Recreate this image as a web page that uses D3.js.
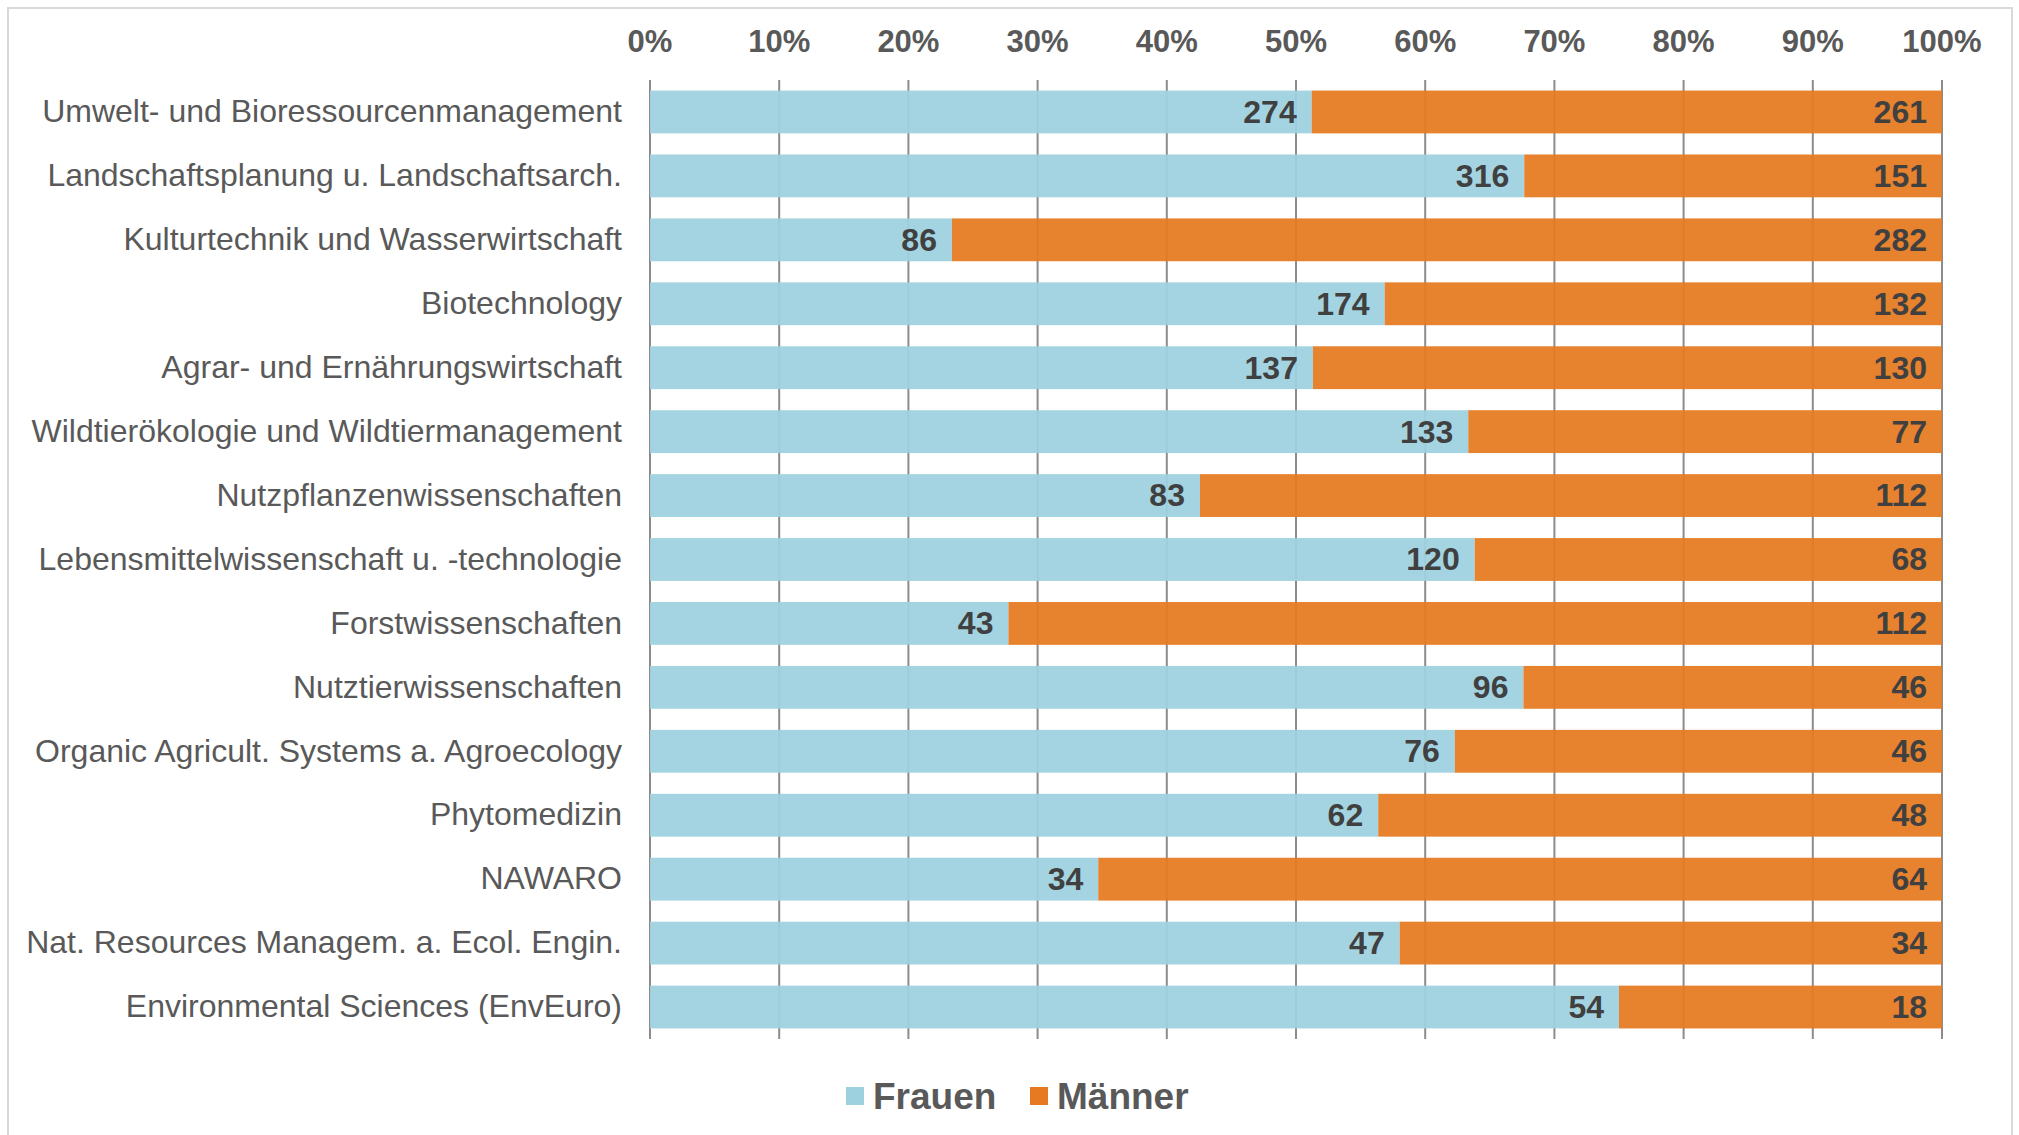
<!DOCTYPE html>
<html>
<head>
<meta charset="utf-8">
<script src="https://cdn.jsdelivr.net/npm/d3@7"></script>
<style>
    html, body { margin: 0; padding: 0; background: #fff; overflow: hidden; }
    svg { display: block; font-family: "Liberation Sans", Arial, sans-serif; }
</style>
</head>
<body>
<svg id="chart" width="2019" height="1135"></svg>
<script>
"use strict";

var categories = [
    "Umwelt- und Bioressourcenmanagement",
    "Landschaftsplanung u. Landschaftsarch.",
    "Kulturtechnik und Wasserwirtschaft",
    "Biotechnology",
    "Agrar- und Ernährungswirtschaft",
    "Wildtierökologie und Wildtiermanagement",
    "Nutzpflanzenwissenschaften",
    "Lebensmittelwissenschaft u. -technologie",
    "Forstwissenschaften",
    "Nutztierwissenschaften",
    "Organic Agricult. Systems a. Agroecology",
    "Phytomedizin",
    "NAWARO",
    "Nat. Resources Managem. a. Ecol. Engin.",
    "Environmental Sciences (EnvEuro)"
];
var frauen = [274, 316, 86, 174, 137, 133, 83, 120, 43, 96, 76, 62, 34, 47, 54];
var maenner = [261, 151, 282, 132, 130, 77, 112, 68, 112, 46, 46, 48, 64, 34, 18];
var seriesNames = ["Frauen", "Männer"];
var seriesColors = ["#9ED1DF", "#E57A22"];
var tickValues = [0, 0.1, 0.2, 0.3, 0.4, 0.5, 0.6, 0.7, 0.8, 0.9, 1];

((svg) => {
    var left = 650, right = 1942, top = 80, bottom = 1039;

    // outer frame (runs past the bottom edge like in the original)
    svg.append("rect")
        .attr("x", 8).attr("y", 8)
        .attr("width", 2004).attr("height", 1160)
        .attr("fill", "none").attr("stroke", "#d9d9d9").attr("stroke-width", 2);

    var rows = categories.map((c, i) => ({cat: c, Frauen: frauen[i], "Männer": maenner[i]}));
    var stacked = d3.stack().keys(seriesNames).offset(d3.stackOffsetExpand)(rows);

    var x = d3.scaleLinear().domain([0, 1]).range([left, right]);
    var y = d3.scaleBand().domain(categories).range([top, bottom])
        .paddingInner(0.33).paddingOuter(0.165);

    // gridlines
    svg.append("g").selectAll("line").data(tickValues).enter().append("line")
        .attr("x1", d => x(d)).attr("x2", d => x(d))
        .attr("y1", top).attr("y2", bottom)
        .attr("stroke", "#8c8c8c").attr("stroke-width", 2);

    // tick labels on top
    svg.append("g").selectAll("text").data(tickValues).enter().append("text")
        .attr("x", d => x(d)).attr("y", 52)
        .attr("text-anchor", "middle")
        .attr("font-size", 31).attr("font-weight", "bold").attr("fill", "#595959")
        .text(d3.format(".0%"));

    // bars
    var groups = svg.append("g").selectAll("g").data(stacked).enter().append("g")
        .attr("fill", (d, i) => seriesColors[i]);
    groups.selectAll("rect").data(d => d).enter().append("rect")
        .attr("x", d => x(d[0]))
        .attr("width", d => x(d[1]) - x(d[0]))
        .attr("y", d => y(d.data.cat))
        .attr("height", y.bandwidth())
        .attr("fill-opacity", 0.94);

    // value labels, inside end of each segment
    stacked.forEach(s => {
        svg.append("g").selectAll("text").data(s).enter().append("text")
            .attr("x", d => x(d[1]) - 15)
            .attr("y", d => y(d.data.cat) + y.bandwidth() / 2)
            .attr("dy", "0.34em")
            .attr("text-anchor", "end")
            .attr("font-size", 32).attr("font-weight", "bold").attr("fill", "#404040")
            .text(d => d.data[s.key]);
    });

    // category labels
    svg.append("g").selectAll("text").data(categories).enter().append("text")
        .attr("x", left - 28)
        .attr("y", d => y(d) + y.bandwidth() / 2)
        .attr("dy", "0.32em")
        .attr("text-anchor", "end")
        .attr("font-size", 32).attr("fill", "#595959")
        .text(d => d);

    // legend
    var legendX = [846, 1030];
    var legend = svg.append("g").selectAll("g").data(seriesNames).enter().append("g")
        .attr("transform", (d, i) => "translate(" + legendX[i] + ",1096)");
    legend.append("rect")
        .attr("x", 0).attr("y", -9).attr("width", 18).attr("height", 18)
        .attr("fill", (d, i) => seriesColors[i]);
    legend.append("text")
        .attr("x", 27).attr("dy", "0.36em")
        .attr("font-size", 37).attr("font-weight", "bold").attr("fill", "#595959")
        .text(d => d);
})(d3.select("#chart"));
</script>
</body>
</html>
